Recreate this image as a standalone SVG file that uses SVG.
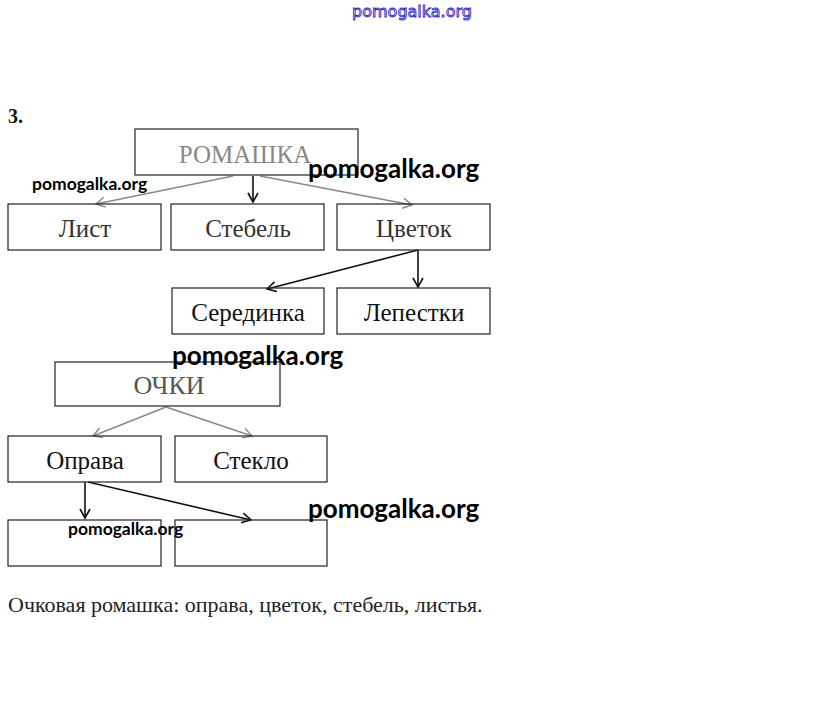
<svg xmlns="http://www.w3.org/2000/svg" width="823" height="720" viewBox="0 0 823 720">
<style>
.box{fill:none;stroke:#222;stroke-width:1.2}
.t{font-family:"Liberation Serif",serif;font-size:25px;fill:#111;text-anchor:middle}
.tg{font-family:"Liberation Serif",serif;font-size:25px;fill:#888;text-anchor:middle}
.wm{font-family:Lato,"Open Sans",sans-serif;font-weight:bold;fill:#000;font-size:26px}
.wms{font-family:Lato,"Open Sans",sans-serif;font-weight:bold;fill:#000;font-size:17.5px}
.c{fill:none;stroke:#111;stroke-width:1.6}
.cg{fill:none;stroke:#888;stroke-width:1.4}
</style>
<defs>
<marker id="ah" markerWidth="12" markerHeight="12" refX="10" refY="6" orient="auto" markerUnits="userSpaceOnUse">
<path d="M1,1 L10,6 L1,11" fill="none" stroke="#111" stroke-width="1.6"/>
</marker>
<marker id="ahg" markerWidth="12" markerHeight="12" refX="10" refY="6" orient="auto" markerUnits="userSpaceOnUse">
<path d="M1,1 L10,6 L1,11" fill="none" stroke="#888" stroke-width="1.4"/>
</marker>
</defs>
<rect width="823" height="720" fill="#fff"/>
<text x="412" y="17" font-family="'DejaVu Sans',sans-serif" font-size="16" fill="#fff" stroke="#3030c0" stroke-width="0.9" text-anchor="middle">pomogalka.org</text>
<text x="8" y="123" font-family="'Liberation Serif',serif" font-weight="bold" font-size="20" fill="#111">3.</text>

<g id="connectors">
<line class="cg" x1="233" y1="176" x2="96" y2="204" marker-end="url(#ahg)"/>
<line class="c" x1="253" y1="176" x2="253" y2="202" marker-end="url(#ah)"/>
<line class="cg" x1="260" y1="176" x2="412" y2="205" marker-end="url(#ahg)"/>
<line class="c" x1="418" y1="250" x2="267" y2="289" marker-end="url(#ah)"/>
<line class="c" x1="418" y1="250" x2="418" y2="287" marker-end="url(#ah)"/>
<line class="cg" x1="166" y1="407" x2="93" y2="436" marker-end="url(#ahg)"/>
<line class="cg" x1="166" y1="407" x2="252" y2="436" marker-end="url(#ahg)"/>
<line class="c" x1="85" y1="482" x2="85" y2="518" marker-end="url(#ah)"/>
<line class="c" x1="88" y1="482" x2="251" y2="520" marker-end="url(#ah)"/>
</g>

<g id="romashka"><rect class="box" x="135" y="129" width="223" height="46" stroke="#444"/><text class="tg" x="245" y="163">РОМАШКА</text></g>
<g id="list"><rect class="box" x="8" y="204" width="153" height="46"/><text class="t" x="85" y="237" style="fill:#333">Лист</text></g>
<g id="stebel"><rect class="box" x="171" y="204" width="153" height="46"/><text class="t" x="248" y="237" style="fill:#333">Стебель</text></g>
<g id="tsvetok"><rect class="box" x="337" y="204" width="153" height="46"/><text class="t" x="414" y="237" style="fill:#333">Цветок</text></g>
<g id="seredinka"><rect class="box" x="172" y="288" width="152" height="46"/><text class="t" x="248" y="321">Серединка</text></g>
<g id="lepestki"><rect class="box" x="337" y="288" width="153" height="46"/><text class="t" x="414" y="321">Лепестки</text></g>

<g id="ochki"><rect class="box" x="55" y="362" width="225" height="44" stroke="#555"/><text class="tg" x="169" y="394" style="fill:#555;font-size:26px">ОЧКИ</text></g>
<g id="oprava"><rect class="box" x="8" y="436" width="153" height="46"/><text class="t" x="85" y="469">Оправа</text></g>
<g id="steklo"><rect class="box" x="175" y="436" width="152" height="46"/><text class="t" x="251" y="469">Стекло</text></g>
<g id="empty1"><rect class="box" x="8" y="520" width="153" height="46"/></g>
<g id="empty2"><rect class="box" x="175" y="520" width="152" height="46"/></g>

<text x="8" y="612" font-family="'Liberation Serif',serif" font-size="22" fill="#222">Очковая ромашка: оправа, цветок, стебель, листья.</text>

<text class="wm" x="308" y="178">pomogalka.org</text>
<text class="wms" x="32" y="190">pomogalka.org</text>
<text class="wm" x="172" y="365">pomogalka.org</text>
<text class="wm" x="308" y="518">pomogalka.org</text>
<text class="wms" x="68" y="535">pomogalka.org</text>
</svg>
